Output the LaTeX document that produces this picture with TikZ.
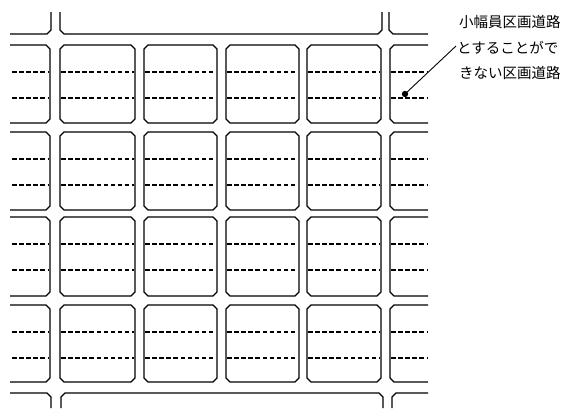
\documentclass[tikz,border=0pt]{standalone}
\usepackage{fontspec}
\newfontfamily\cjk{Noto Sans CJK JP}
\begin{document}
\begin{tikzpicture}[x=1pt,y=-1pt,
  road/.style={line width=1.1pt,black},
  lane/.style={line width=1.1pt,black,dash pattern=on 4.5pt off 2.6pt},
  lbl/.style={anchor=west,inner sep=0pt,font=\cjk\fontsize{14.5}{16}\selectfont}]
\useasboundingbox (0,0) rectangle (566,408);
\fill[white] (0,0) rectangle (566,408);
\def\c{4}
% closed blocks
\foreach \yt/\yb in {45/123,132/210,217/296,305/382}{
  \foreach \xl/\xr in {60/135,144/217,226/299,307/381}{
    \draw[road] (\xl+\c,\yt) -- (\xr-\c,\yt) -- (\xr,\yt+\c) -- (\xr,\yb-\c) -- (\xr-\c,\yb)
      -- (\xl+\c,\yb) -- (\xl,\yb-\c) -- (\xl,\yt+\c) -- cycle;
    \draw[lane] (\xl+1,\yt+27) -- (\xr-1,\yt+27);
    \draw[lane] (\xl+1,\yt+53) -- (\xr-1,\yt+53);
  }
  % left partial
  \draw[road] (10,\yt) -- (50-\c,\yt) -- (50,\yt+\c) -- (50,\yb-\c) -- (50-\c,\yb) -- (10,\yb);
  \draw[lane] (12,\yt+27) -- (49,\yt+27);
  \draw[lane] (12,\yt+53) -- (49,\yt+53);
  % right partial
  \draw[road] (428,\yt) -- (390+\c,\yt) -- (390,\yt+\c) -- (390,\yb-\c) -- (390+\c,\yb) -- (428,\yb);
  \draw[lane] (391,\yt+27) -- (428,\yt+27);
  \draw[lane] (391,\yt+53) -- (428,\yt+53);
}
% top row
\draw[road] (10,34) -- (51-\c,34) -- (51,34-\c) -- (51,12);
\draw[road] (60,12) -- (60,34-\c) -- (60+\c,34) -- (382-\c,34) -- (382,34-\c) -- (382,12);
\draw[road] (389,12) -- (389,34-\c) -- (389+\c,34) -- (428,34);
% bottom row
\draw[road] (10,393) -- (51-\c,393) -- (51,393+\c) -- (51,408);
\draw[road] (61,408) -- (61,393+\c) -- (61+\c,393) -- (383-\c,393) -- (383,393+\c) -- (383,408);
\draw[road] (392,408) -- (392,393+\c) -- (392+\c,393) -- (428,393);
% callout
\coordinate (dot) at (405,94);
\coordinate (lend) at (456,46);
\fill (dot) circle (3.2);
\draw[line width=0.9pt] (dot) -- (lend);
\node[lbl] (t1) at (459,22) {小幅員区画道路};
\node[lbl] (t2) at (457,48) {とすることがで};
\node[lbl] (t3) at (459,73) {きない区画道路};
\end{tikzpicture}
\end{document}
